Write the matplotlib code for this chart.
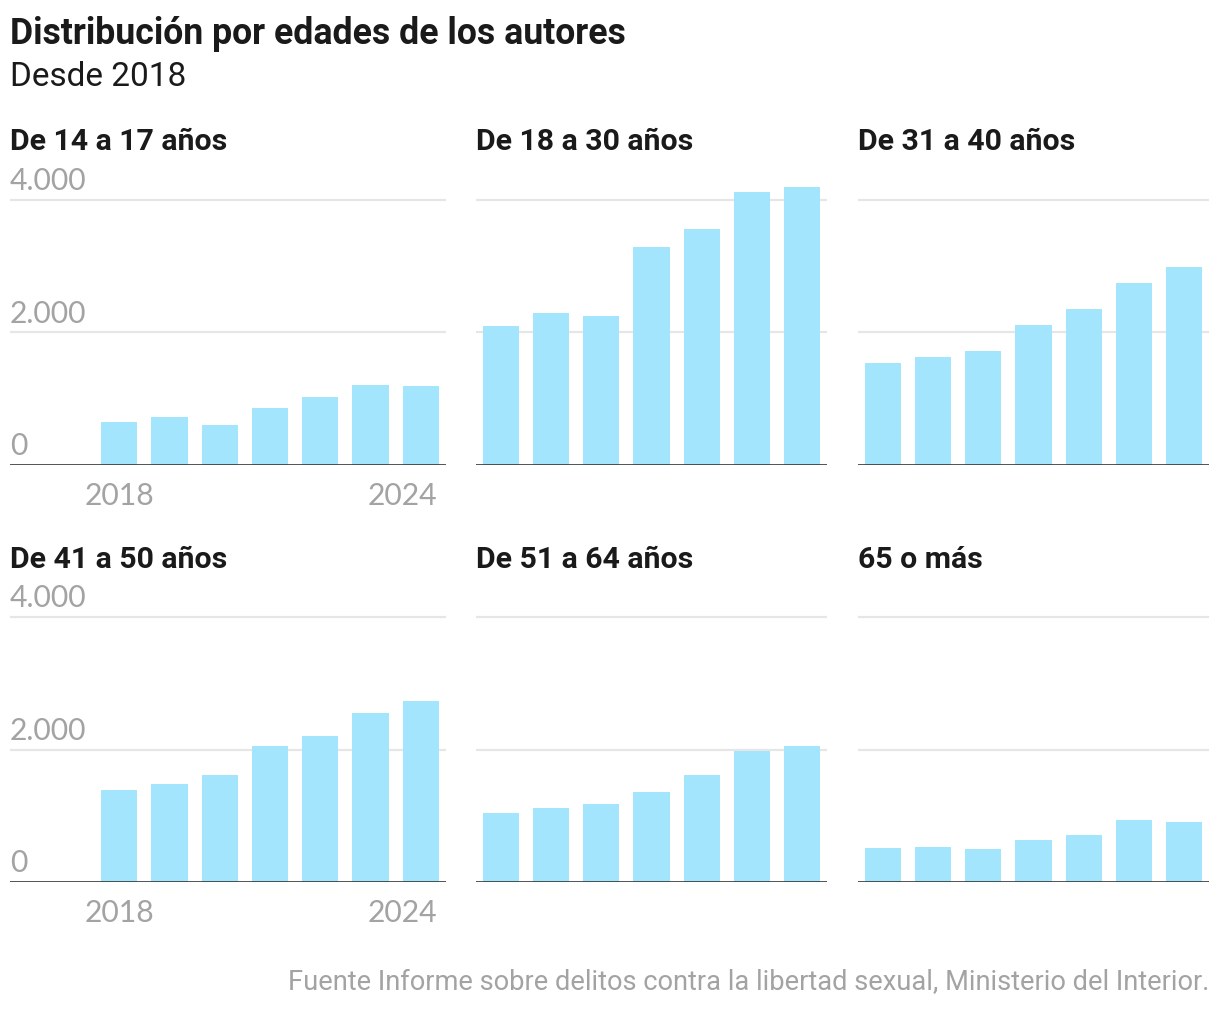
import matplotlib
matplotlib.use("Agg")
import matplotlib.pyplot as plt
from matplotlib import font_manager
import numpy as np


def pick_font(names):
    for n in names:
        try:
            font_manager.findfont(n, fallback_to_default=False)
            return n
        except Exception:
            pass
    return "DejaVu Sans"


head_font = pick_font(["Roboto", "Liberation Sans"])
ticks_font = pick_font(["Lato", "Roboto", "DejaVu Sans"])

years = [2018, 2019, 2020, 2021, 2022, 2023, 2024]
groups = ["De 14 a 17 años", "De 18 a 30 años", "De 31 a 40 años",
          "De 41 a 50 años", "De 51 a 64 años", "65 o más"]
v_14_17 = [650, 720, 600, 860, 1020, 1200, 1190]
v_18_30 = [2105, 2300, 2255, 3290, 3565, 4120, 4195]
v_31_40 = [1535, 1625, 1715, 2120, 2360, 2750, 2990]
v_41_50 = [1390, 1480, 1615, 2055, 2205, 2550, 2730]
v_51_64 = [1040, 1115, 1175, 1360, 1615, 1975, 2055]
v_65 = [515, 530, 500, 635, 710, 935, 905]
values = [v_14_17, v_18_30, v_31_40, v_41_50, v_51_64, v_65]
y_ticks = [0, 2000, 4000]
y_labels = ["0", "2.000", "4.000"]
title = "Distribución por edades de los autores"
subtitle = "Desde 2018"
source = "Fuente Informe sobre delitos contra la libertad sexual, Ministerio del Interior."

bar_color = "#a3e5fc"
grid_color = "#e6e6e6"
text_color = "#1a1a1a"
gray = "#a3a3a3"

W, H = 1220, 1010
fig = plt.figure(figsize=(W / 100, H / 100), dpi=100)
renderer = fig.canvas.get_renderer()


def fit_size(s, target_px, **kw):
    # scale font size so that the string is target_px wide
    t = fig.text(0, 0, s, fontsize=20, **kw)
    w = t.get_window_extent(renderer).width
    t.remove()
    return 20 * target_px / w


title_fs = fit_size(title, 614, family=head_font, fontweight="bold")
sub_fs = fit_size(subtitle, 176, family=head_font)
panel_fs = fit_size(groups[0], 217, family=head_font, fontweight="bold")
src_fs = fit_size(source, 919, family=head_font)
tick_fs = fit_size("4.000", 77, family=ticks_font)

px_per_unit = 265 / 4000
ytop = 4400
ax_h = ytop * px_per_unit
lefts = [10, 476, 858]
widths = [436, 351, 351]
bottoms = [465, 882]
title_y = [150, 568]

fig.text(10 / W, 1 - 44 / H, title, fontsize=title_fs,
         fontweight="bold", family=head_font, color=text_color, va="baseline")
fig.text(10 / W, 1 - 86 / H, subtitle, fontsize=sub_fs, family=head_font,
         color=text_color, va="baseline")

for i, (name, vals) in enumerate(zip(groups, values)):
    r, c = divmod(i, 3)
    b = bottoms[r]
    ax = fig.add_axes([lefts[c] / W, (H - b) / H, widths[c] / W, ax_h / H])
    ax.bar(years, vals, width=0.72, color=bar_color, zorder=2)
    for t in y_ticks[1:]:
        ax.axhline(t, color=grid_color, lw=1.6, zorder=1)
    ax.axhline(0, color="#333333", lw=1.9, zorder=3)
    if c == 0:
        ax.set_xlim(2018 - 2.17, 2024.5)
        for t, lab in zip(y_ticks, y_labels):
            ax.text(0, t + 150, lab, transform=ax.get_yaxis_transform(), fontsize=tick_fs,
                    family=ticks_font, color=gray, ha="left", va="baseline")
        ax.text(2018, -40 / px_per_unit, "2018", fontsize=tick_fs, family=ticks_font,
                color=gray, ha="center", va="baseline", clip_on=False)
        ax.text(2024.33, -40 / px_per_unit, "2024", fontsize=tick_fs, family=ticks_font,
                color=gray, ha="right", va="baseline", clip_on=False)
    else:
        ax.set_xlim(2017.5, 2024.5)
    ax.set_ylim(0, ytop)
    ax.axis("off")
    fig.text(lefts[c] / W, 1 - title_y[r] / H, name, fontsize=panel_fs, fontweight="bold",
             family=head_font, color=text_color, va="baseline")

fig.text(1209 / W, 1 - 990 / H, source,
         fontsize=src_fs, family=head_font, color=gray, ha="right", va="baseline")

fig.savefig("out.png", dpi=100)
